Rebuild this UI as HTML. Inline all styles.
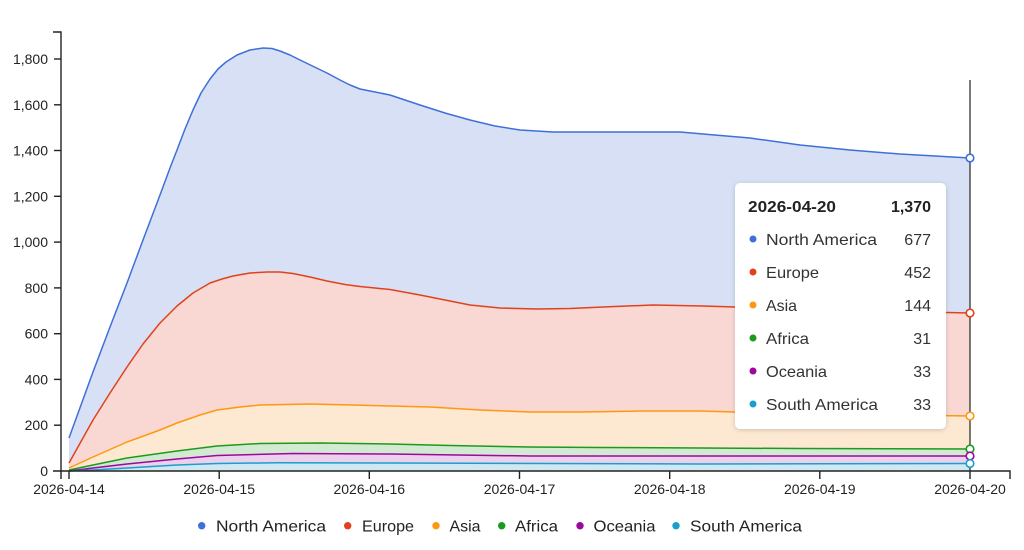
<!DOCTYPE html>
<html>
<head>
<meta charset="utf-8">
<style>
html,body{margin:0;padding:0;background:#fff;}
svg{display:block;}
text{font-family:"Liberation Sans",Arial,sans-serif;}
</style>
</head>
<body>
<svg width="1024" height="550" viewBox="0 0 1024 550" xmlns="http://www.w3.org/2000/svg">
<defs>
<filter id="sh" x="-10%" y="-10%" width="120%" height="120%">
<feDropShadow dx="0" dy="1" stdDeviation="2" flood-color="#000" flood-opacity="0.18"/>
</filter>
</defs>

<!-- Areas -->
<path fill="#d7e0f4" d="M69,438 L93,372 L110,327 L127,283 L143,240 L160,195 L170,168 L177,150 L185,129 L193,110 L201,93 L210,79 L218,69 L226,62 L237,55 L250,50 L263,48 L272,48.5 L280,51 L290,55 L300,60 L327,73 L340,80 L350,85 L360,89 L370,91 L390,95 L420,105 L445,113 L470,120 L495,126 L520,130 L553,132 L603,132 L653,132 L680,132 L703,134 L750,138 L800,145 L850,150 L900,154 L970,158 L970,313 L900,311.5 L800,309 L735,307 L703,306 L653,305 L603,307 L570,308.5 L537,309 L500,308 L470,305 L445,300 L420,295 L390,289.5 L375,288 L360,286.5 L345,284.5 L327,281 L310,277 L293,273.5 L280,272 L267,272 L250,273 L233,276 L222,279 L210,283 L193,293 L177,306 L160,323 L143,344 L127,367 L110,393 L93,420 L69,463 Z"/>
<path fill="#f9d8d3" d="M69,463 L93,420 L110,393 L127,367 L143,344 L160,323 L177,306 L193,293 L210,283 L222,279 L233,276 L250,273 L267,272 L280,272 L293,273.5 L310,277 L327,281 L345,284.5 L360,286.5 L375,288 L390,289.5 L420,295 L445,300 L470,305 L500,308 L537,309 L570,308.5 L603,307 L653,305 L703,306 L735,307 L800,309 L900,311.5 L970,313 L970,416 L900,415 L800,413 L735,412 L700,411 L640,411 L580,412 L530,412 L480,410 L430,407 L390,406 L310,404 L260,405 L240,407 L217,410 L200,415 L177,423 L160,430 L127,442 L93,457 L69,468 Z"/>
<path fill="#fde8d2" d="M69,468 L93,457 L127,442 L160,430 L177,423 L200,415 L217,410 L240,407 L260,405 L310,404 L390,406 L430,407 L480,410 L530,412 L580,412 L640,411 L700,411 L735,412 L800,413 L900,415 L970,416 L970,449 L800,448.5 L700,448 L600,447.5 L530,447 L450,445.5 L390,444 L320,443 L260,443.5 L217,446 L177,451 L127,458 L93,465 L69,470 Z"/>
<path fill="#d2ead2" d="M69,470 L93,465 L127,458 L177,451 L217,446 L260,443.5 L320,443 L390,444 L450,445.5 L530,447 L600,447.5 L700,448 L800,448.5 L970,449 L970,456 L700,456 L530,456 L390,454 L293,453.5 L217,455.5 L177,459 L127,464 L93,468 L69,471 Z"/>
<path fill="#ebd1ec" d="M69,471 L93,468 L127,464 L177,459 L217,455.5 L293,453.5 L390,454 L530,456 L700,456 L970,456 L970,463.5 L700,464 L390,463 L277,462.8 L217,463.5 L177,465 L127,468 L93,470 L69,471 Z"/>
<path fill="#cfe8f1" d="M69,471 L93,470 L127,468 L177,465 L217,463.5 L277,462.8 L390,463 L700,464 L970,463.5 L970,471 L69,471 Z"/>

<!-- Lines -->
<g fill="none" stroke-width="1.5" stroke-linejoin="round">
<path stroke="#3f6fd8" d="M69,438 L93,372 L110,327 L127,283 L143,240 L160,195 L170,168 L177,150 L185,129 L193,110 L201,93 L210,79 L218,69 L226,62 L237,55 L250,50 L263,48 L272,48.5 L280,51 L290,55 L300,60 L327,73 L340,80 L350,85 L360,89 L370,91 L390,95 L420,105 L445,113 L470,120 L495,126 L520,130 L553,132 L603,132 L653,132 L680,132 L703,134 L750,138 L800,145 L850,150 L900,154 L970,158"/>
<path stroke="#e0421e" d="M69,463 L93,420 L110,393 L127,367 L143,344 L160,323 L177,306 L193,293 L210,283 L222,279 L233,276 L250,273 L267,272 L280,272 L293,273.5 L310,277 L327,281 L345,284.5 L360,286.5 L375,288 L390,289.5 L420,295 L445,300 L470,305 L500,308 L537,309 L570,308.5 L603,307 L653,305 L703,306 L735,307 L800,309 L900,311.5 L970,313"/>
<path stroke="#ff9810" d="M69,468 L93,457 L127,442 L160,430 L177,423 L200,415 L217,410 L240,407 L260,405 L310,404 L390,406 L430,407 L480,410 L530,412 L580,412 L640,411 L700,411 L735,412 L800,413 L900,415 L970,416"/>
<path stroke="#1c9a1c" d="M69,470 L93,465 L127,458 L177,451 L217,446 L260,443.5 L320,443 L390,444 L450,445.5 L530,447 L600,447.5 L700,448 L800,448.5 L970,449"/>
<path stroke="#9c079f" d="M69,471 L93,468 L127,464 L177,459 L217,455.5 L293,453.5 L390,454 L530,456 L700,456 L970,456"/>
<path stroke="#1a9fcc" d="M69,471 L93,470 L127,468 L177,465 L217,463.5 L277,462.8 L390,463 L700,464 L970,463.5"/>
</g>

<!-- Crosshair -->
<line x1="970" y1="80" x2="970" y2="471" stroke="#333" stroke-width="1.3"/>

<!-- Axes -->
<g stroke="#222" stroke-width="1.4" fill="none">
<path d="M53,32 H61 V471 H53"/>
<path d="M61,479 V471 H1010 V479"/>
<line x1="54" y1="425.2" x2="61" y2="425.2"/>
<line x1="54" y1="379.4" x2="61" y2="379.4"/>
<line x1="54" y1="333.7" x2="61" y2="333.7"/>
<line x1="54" y1="287.9" x2="61" y2="287.9"/>
<line x1="54" y1="242.1" x2="61" y2="242.1"/>
<line x1="54" y1="196.3" x2="61" y2="196.3"/>
<line x1="54" y1="150.5" x2="61" y2="150.5"/>
<line x1="54" y1="104.8" x2="61" y2="104.8"/>
<line x1="54" y1="59" x2="61" y2="59"/>
<line x1="69" y1="471" x2="69" y2="479"/>
<line x1="219.2" y1="471" x2="219.2" y2="479"/>
<line x1="369.3" y1="471" x2="369.3" y2="479"/>
<line x1="519.5" y1="471" x2="519.5" y2="479"/>
<line x1="669.7" y1="471" x2="669.7" y2="479"/>
<line x1="819.8" y1="471" x2="819.8" y2="479"/>
<line x1="970" y1="471" x2="970" y2="479"/>
</g>
<g font-size="14" fill="#222" text-anchor="end">
<text x="48" y="476">0</text>
<text x="48" y="430.2">200</text>
<text x="48" y="384.4">400</text>
<text x="48" y="338.7">600</text>
<text x="48" y="292.9">800</text>
<text x="48" y="247.1">1,000</text>
<text x="48" y="201.3">1,200</text>
<text x="48" y="155.5">1,400</text>
<text x="48" y="109.8">1,600</text>
<text x="48" y="64">1,800</text>
</g>
<g font-size="14" fill="#222" text-anchor="middle">
<text x="69" y="494">2026-04-14</text>
<text x="219.2" y="494">2026-04-15</text>
<text x="369.3" y="494">2026-04-16</text>
<text x="519.5" y="494">2026-04-17</text>
<text x="669.7" y="494">2026-04-18</text>
<text x="819.8" y="494">2026-04-19</text>
<text x="970" y="494">2026-04-20</text>
</g>

<!-- Point markers -->
<g fill="#fff" stroke-width="1.6">
<circle cx="970" cy="158" r="3.8" stroke="#3f6fd8"/>
<circle cx="970" cy="313" r="3.8" stroke="#e0421e"/>
<circle cx="970" cy="416" r="3.8" stroke="#ff9810"/>
<circle cx="970" cy="449" r="3.8" stroke="#1c9a1c"/>
<circle cx="970" cy="456" r="3.8" stroke="#9c079f"/>
<circle cx="970" cy="463.5" r="3.8" stroke="#1a9fcc"/>
</g>

<!-- Tooltip -->
<rect x="735" y="183" width="211" height="246" rx="5" fill="#fff" filter="url(#sh)"/>
<g font-size="16" fill="#222">
<text x="748" y="212" font-weight="bold" textLength="88" lengthAdjust="spacingAndGlyphs">2026-04-20</text>
<text x="931" y="212" font-weight="bold" text-anchor="end">1,370</text>
</g>
<g font-size="16" fill="#333">
<circle cx="753" cy="239" r="3.5" fill="#3f6fd8"/>
<text x="766" y="245" textLength="111" lengthAdjust="spacingAndGlyphs">North America</text>
<text x="931" y="245" text-anchor="end">677</text>
<circle cx="753" cy="272" r="3.5" fill="#e0421e"/>
<text x="766" y="278" textLength="53" lengthAdjust="spacingAndGlyphs">Europe</text>
<text x="931" y="278" text-anchor="end">452</text>
<circle cx="753" cy="305" r="3.5" fill="#ff9810"/>
<text x="766" y="311" textLength="31" lengthAdjust="spacingAndGlyphs">Asia</text>
<text x="931" y="311" text-anchor="end">144</text>
<circle cx="753" cy="338" r="3.5" fill="#1c9a1c"/>
<text x="766" y="344" textLength="43" lengthAdjust="spacingAndGlyphs">Africa</text>
<text x="931" y="344" text-anchor="end">31</text>
<circle cx="753" cy="371" r="3.5" fill="#9c079f"/>
<text x="766" y="377" textLength="61" lengthAdjust="spacingAndGlyphs">Oceania</text>
<text x="931" y="377" text-anchor="end">33</text>
<circle cx="753" cy="404" r="3.5" fill="#1a9fcc"/>
<text x="766" y="410" textLength="112" lengthAdjust="spacingAndGlyphs">South America</text>
<text x="931" y="410" text-anchor="end">33</text>
</g>

<!-- Legend -->
<g font-size="16" fill="#222">
<circle cx="201.7" cy="525.7" r="3.7" fill="#3f6fd8"/>
<text x="216" y="531.5" textLength="110" lengthAdjust="spacingAndGlyphs">North America</text>
<circle cx="347.7" cy="525.7" r="3.7" fill="#e0421e"/>
<text x="362" y="531.5" textLength="52" lengthAdjust="spacingAndGlyphs">Europe</text>
<circle cx="436" cy="525.7" r="3.7" fill="#ff9810"/>
<text x="449.5" y="531.5" textLength="31" lengthAdjust="spacingAndGlyphs">Asia</text>
<circle cx="501.7" cy="525.7" r="3.7" fill="#1c9a1c"/>
<text x="515" y="531.5" textLength="43" lengthAdjust="spacingAndGlyphs">Africa</text>
<circle cx="580" cy="525.7" r="3.7" fill="#9c079f"/>
<text x="593.5" y="531.5" textLength="62" lengthAdjust="spacingAndGlyphs">Oceania</text>
<circle cx="676" cy="525.7" r="3.7" fill="#1a9fcc"/>
<text x="690" y="531.5" textLength="112" lengthAdjust="spacingAndGlyphs">South America</text>
</g>
</svg>
</body>
</html>
